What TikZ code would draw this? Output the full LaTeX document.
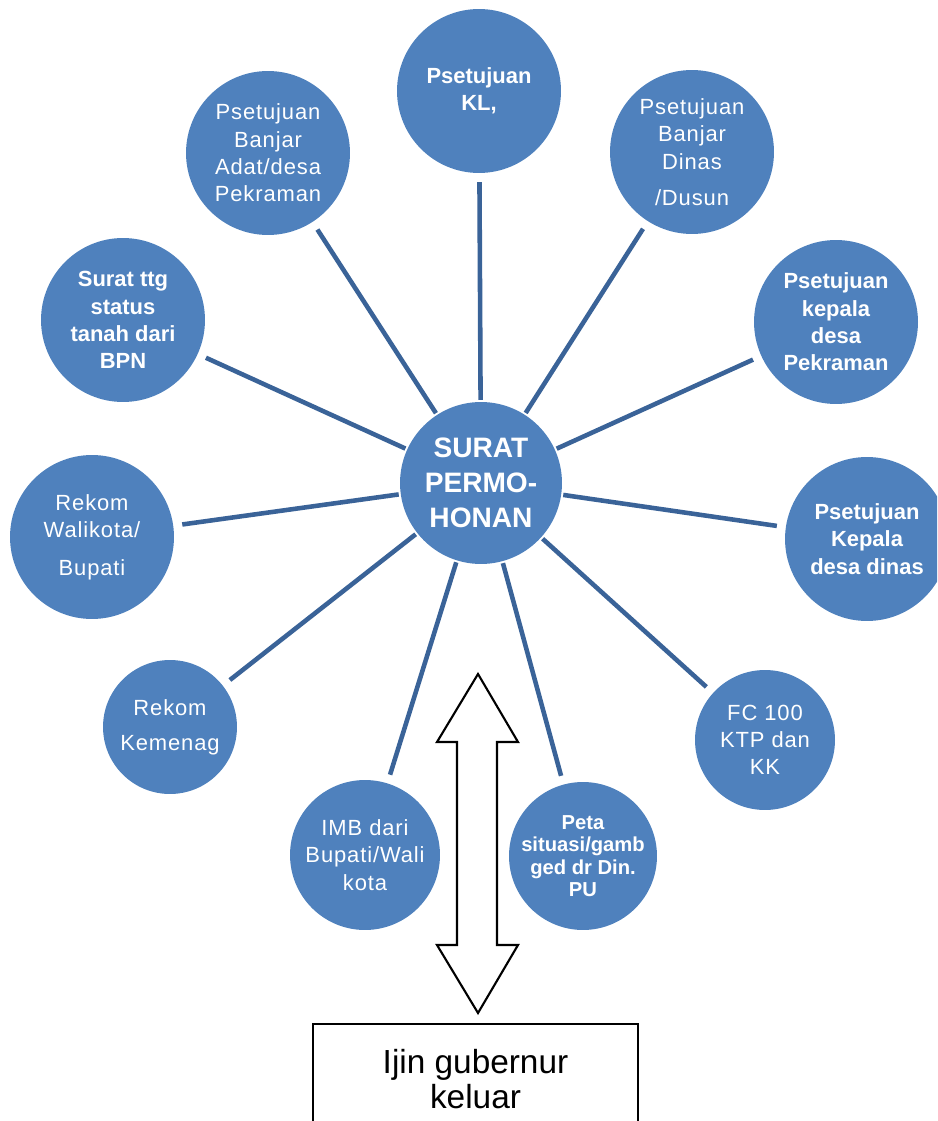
\documentclass[tikz,border=0pt]{standalone}
\usepackage{fontspec}
\setmainfont{Liberation Sans}
\usepackage{tikz}
\definecolor{cfill}{HTML}{4F81BD}
\definecolor{cline}{HTML}{3A6398}

\begin{document}
\begin{tikzpicture}[x=0.02cm, y=-0.02cm,
          bub/.style={circle, fill=cfill, text=white, minimum size=3.28cm, inner sep=0pt,
                      align=center, font=\fontsize{12.5}{15.5}\selectfont\addfontfeatures{LetterSpace=4}},
          bubb/.style={bub, font=\fontsize{12.5}{15.5}\selectfont\bfseries},
          hub/.style={bub, minimum size=3.24cm, font=\fontsize{16}{20}\selectfont\bfseries},
          link/.style={cline, line width=2.6pt, shorten >=5pt, shorten <=1pt}]
        \clip (0,0) rectangle (937,1121);
        \node[hub] (hub) at (481,483) {SURAT\\PERMO-\\HONAN};
        \node[bubb] (kl) at (479,91) {Psetujuan\\KL,};
        \node[bub] (adat) at (268,153) {Psetujuan\\Banjar\\Adat/desa\\Pekraman};
        \node[bub] (dinas) at (692,152) {Psetujuan\\Banjar\\Dinas\\[5pt]/Dusun};
        \node[bubb] (bpn) at (123,320) {Surat ttg\\status\\tanah dari\\BPN};
        \node[bubb] (kdpek) at (836,322) {Psetujuan\\kepala\\desa\\Pekraman};
        \node[bub] (walkot) at (92,537) {Rekom\\Walikota/\\[6pt]Bupati};
        \node[bubb] (kddin) at (867,539) {Psetujuan\\Kepala\\desa dinas};
        \node[bub, minimum size=2.68cm] (kemenag) at (170,727) {Rekom\\[4.5pt]Kemenag};
        \node[bub, minimum size=2.8cm] (ktp) at (765,740) {FC 100\\KTP dan\\KK};
        \node[bub, minimum size=3cm] (imb) at (365,855) {IMB dari\\Bupati/Wali\\kota};
        \node[bub, minimum size=2.96cm, font=\fontsize{11.5}{12.8}\selectfont\bfseries] (peta) at (583,856)
          {Peta\\situasi/gamb\\ged dr Din.\\PU};
        % spokes
        \draw[link] (hub) -- (kl);
        \draw[link] (hub) -- (adat);
        \draw[link] (hub) -- (dinas);
        \draw[link] (hub) -- (bpn);
        \draw[link] (hub) -- (kdpek);
        \draw[link] (hub) -- (walkot);
        \draw[link] (hub) -- (kddin);
        \draw[link] (hub) -- (kemenag);
        \draw[link] (hub) -- (ktp);
        \draw[link] (hub) -- (imb);
        \draw[link] (hub) -- (peta);
        % two-way arrow
        \draw[black, line width=1.2pt, fill=white] (478,674) -- (518,742) -- (497,742) -- (497,945)
          -- (518,945) -- (478,1013) -- (437,945) -- (457,945) -- (457,742) -- (437,742) -- cycle;
        \node[draw, line width=1.2pt, minimum width=6.5cm, minimum height=2.2cm, align=center,
              font=\fontsize{19}{20}\selectfont] (izin) at (475.5,1079) {Ijin gubernur\\keluar};
      \end{tikzpicture}
\end{document}
